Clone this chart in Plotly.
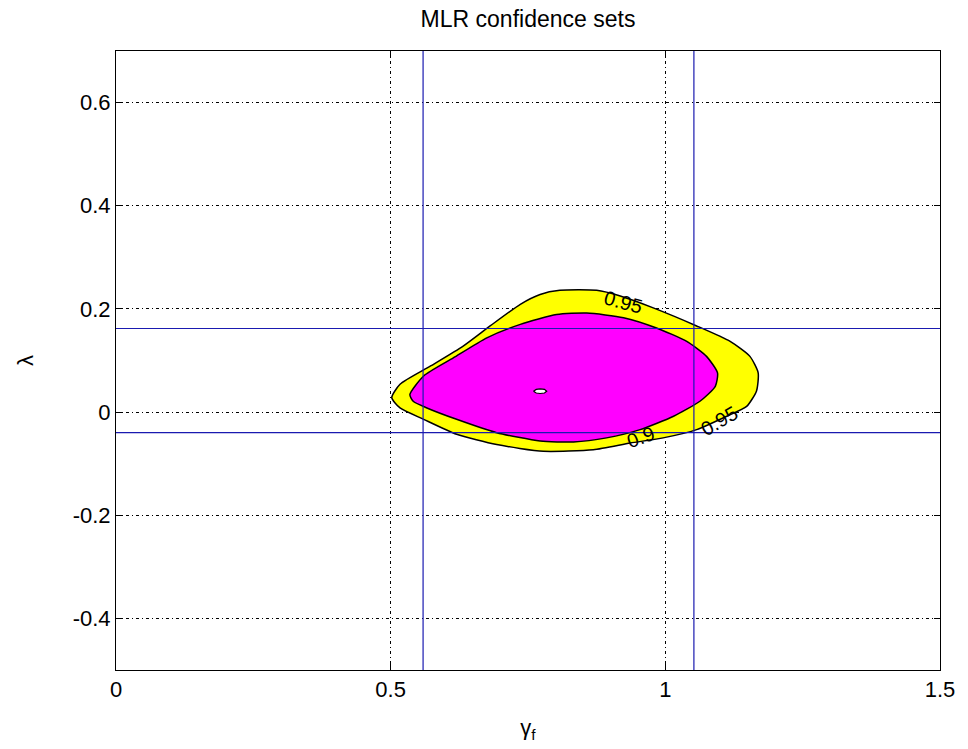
import plotly.graph_objects as go

# ---- data ----
outer_x = [0.502, 0.517, 0.572, 0.632, 0.681, 0.736, 0.772, 0.808, 0.875, 0.918, 0.978, 1.057,
           1.118, 1.154, 1.169, 1.166, 1.148, 1.112, 1.057, 0.996, 0.936, 0.869, 0.778, 0.693,
           0.620, 0.560, 0.517]
outer_y = [0.028, 0.054, 0.089, 0.128, 0.167, 0.209, 0.228, 0.236, 0.236, 0.225, 0.202, 0.167,
           0.137, 0.108, 0.076, 0.041, 0.011, -0.008, -0.034, -0.050, -0.060, -0.073, -0.076, -0.063,
           -0.043, -0.014, 0.008]

inner_x = [0.535, 0.560, 0.614, 0.675, 0.736, 0.802, 0.857, 0.924, 0.984, 1.039, 1.075, 1.095,
           1.091, 1.063, 1.015, 0.954, 0.893, 0.833, 0.772, 0.693, 0.620, 0.566, 0.541]
inner_y = [0.034, 0.070, 0.105, 0.144, 0.170, 0.189, 0.192, 0.183, 0.163, 0.137, 0.108, 0.076,
           0.050, 0.021, -0.008, -0.034, -0.050, -0.058, -0.056, -0.040, -0.014, 0.008, 0.021]

hole_x = [0.760, 0.765, 0.772, 0.780, 0.784, 0.780, 0.772, 0.765]
hole_y = [0.0405, 0.0440, 0.0450, 0.0440, 0.0405, 0.0370, 0.0360, 0.0370]

vline_x = [0.559, 1.052]
hline_y = [0.162, -0.040]

label_text = ["0.95", "0.9", "0.95"]
label_x = [0.923, 0.956, 1.098]
label_y = [0.214, -0.049, -0.018]
label_angle = [15, -20, -30]

x_ticks = [0, 0.5, 1, 1.5]
x_ticktext = ["0", "0.5", "1", "1.5"]
y_ticks = [-0.4, -0.2, 0, 0.2, 0.4, 0.6]
y_ticktext = ["-0.4", "-0.2", "0", "0.2", "0.4", "0.6"]

FONT = "Liberation Sans, Arial, sans-serif"

fig = go.Figure()
fig.add_trace(go.Scatter(x=outer_x + [outer_x[0]], y=outer_y + [outer_y[0]], mode="lines",
                         fill="toself", fillcolor="#FFFF00", line_shape="spline",
                         line=dict(color="black", width=1.5, smoothing=0.6),
                         hoverinfo="skip", showlegend=False))
fig.add_trace(go.Scatter(x=inner_x + [inner_x[0]], y=inner_y + [inner_y[0]], mode="lines",
                         fill="toself", fillcolor="#FF00FF", line_shape="spline",
                         line=dict(color="black", width=1.5, smoothing=0.6),
                         hoverinfo="skip", showlegend=False))
fig.add_trace(go.Scatter(x=hole_x + [hole_x[0]], y=hole_y + [hole_y[0]], mode="lines",
                         fill="toself", fillcolor="white",
                         line=dict(color="black", width=1.2), hoverinfo="skip", showlegend=False))

for vx in vline_x:
    fig.add_vline(x=vx, line=dict(color="#1a1ab0", width=1.2))
for hy in hline_y:
    fig.add_hline(y=hy, line=dict(color="#1a1ab0", width=1.2))

for t, lx, ly, a in zip(label_text, label_x, label_y, label_angle):
    fig.add_annotation(x=lx, y=ly, text=t, showarrow=False, textangle=a,
                       font=dict(family=FONT, size=20, color="black"))

axis_common = dict(showline=True, linecolor="black", linewidth=1, mirror="ticks",
                   ticks="inside", ticklen=6, tickcolor="black", showgrid=True,
                   gridcolor="black", gridwidth=1, griddash="3px,3px,1px,3px", zeroline=False,
                   tickfont=dict(family=FONT, size=22, color="black"))

fig.update_xaxes(range=[0, 1.5], tickvals=x_ticks, ticktext=x_ticktext,
                 title=dict(text="γ<sub>f</sub>", font=dict(family=FONT, size=22, color="black"),
                            standoff=18),
                 **axis_common)
fig.update_yaxes(range=[-0.5, 0.7], tickvals=y_ticks, ticktext=y_ticktext,
                 title=dict(text="λ", font=dict(family=FONT, size=22, color="black"), standoff=32),
                 **axis_common)

fig.update_layout(
    width=968, height=749,
    margin=dict(l=116, r=28, t=51, b=79),
    paper_bgcolor="white", plot_bgcolor="white",
    title=dict(text="MLR confidence sets", x=0.5, xref="paper", xanchor="center",
               y=1 - 19 / 749, yref="container", yanchor="middle",
               font=dict(family=FONT, size=23, color="black")),
    showlegend=False,
)

fig.write_html("out.html")
